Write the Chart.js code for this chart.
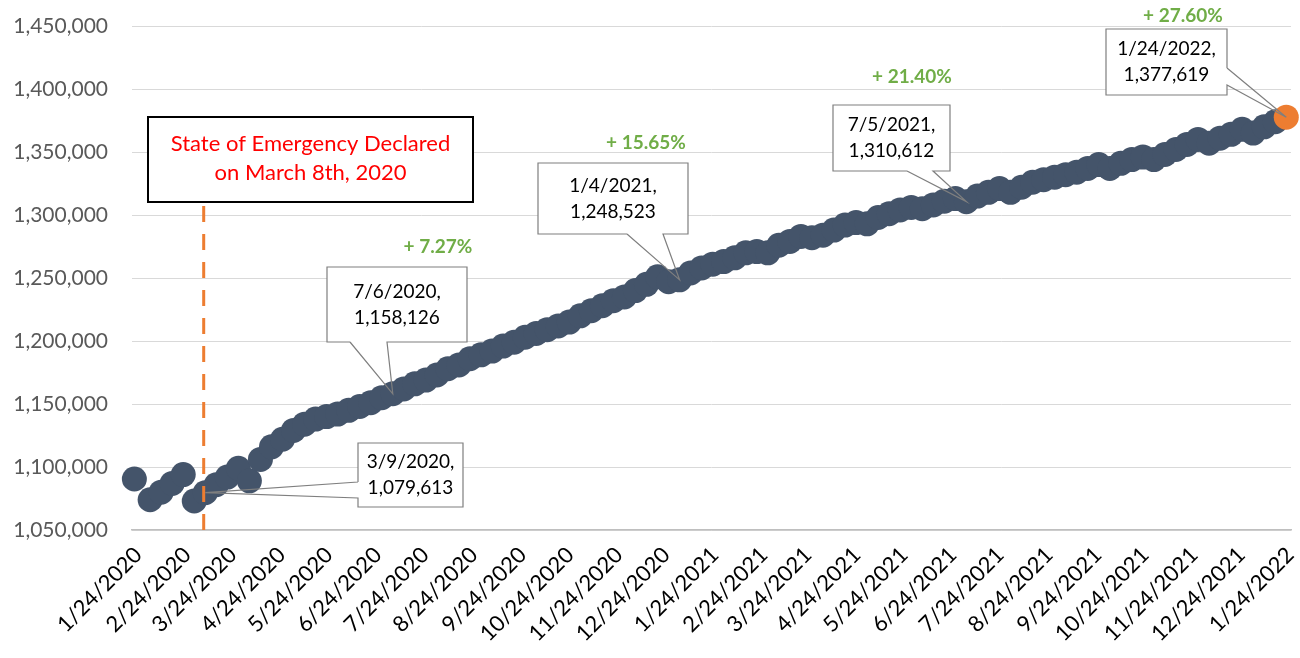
<!DOCTYPE html>
<html>
<head>
<meta charset="utf-8">
<script src="https://cdn.jsdelivr.net/npm/chart.js@4.4.1/dist/chart.umd.min.js"></script>
<style>
  html, body { margin: 0; padding: 0; background: #fff; }
  #wrap { width: 1300px; height: 658px; }
</style>
</head>
<body>
<div id="wrap"><canvas id="chart" width="1300" height="658"></canvas></div>
<script>
'use strict';

// weekly observations (first one is the axis start date)
const DATES = [
  '1/24/2020', '2/3/2020', '2/10/2020', '2/17/2020', '2/24/2020', '3/2/2020', '3/9/2020', '3/16/2020',
  '3/23/2020', '3/30/2020', '4/6/2020', '4/13/2020', '4/20/2020', '4/27/2020', '5/4/2020', '5/11/2020',
  '5/18/2020', '5/25/2020', '6/1/2020', '6/8/2020', '6/15/2020', '6/22/2020', '6/29/2020', '7/6/2020',
  '7/13/2020', '7/20/2020', '7/27/2020', '8/3/2020', '8/10/2020', '8/17/2020', '8/24/2020', '8/31/2020',
  '9/7/2020', '9/14/2020', '9/21/2020', '9/28/2020', '10/5/2020', '10/12/2020', '10/19/2020', '10/26/2020',
  '11/2/2020', '11/9/2020', '11/16/2020', '11/23/2020', '11/30/2020', '12/7/2020', '12/14/2020', '12/21/2020',
  '12/28/2020', '1/4/2021', '1/11/2021', '1/18/2021', '1/25/2021', '2/1/2021', '2/8/2021', '2/15/2021',
  '2/22/2021', '3/1/2021', '3/8/2021', '3/15/2021', '3/22/2021', '3/29/2021', '4/5/2021', '4/12/2021',
  '4/19/2021', '4/26/2021', '5/3/2021', '5/10/2021', '5/17/2021', '5/24/2021', '5/31/2021', '6/7/2021',
  '6/14/2021', '6/21/2021', '6/28/2021', '7/5/2021', '7/12/2021', '7/19/2021', '7/26/2021', '8/2/2021',
  '8/9/2021', '8/16/2021', '8/23/2021', '8/30/2021', '9/6/2021', '9/13/2021', '9/20/2021', '9/27/2021',
  '10/4/2021', '10/11/2021', '10/18/2021', '10/25/2021', '11/1/2021', '11/8/2021', '11/15/2021', '11/22/2021',
  '11/29/2021', '12/6/2021', '12/13/2021', '12/20/2021', '12/27/2021', '1/3/2022', '1/10/2022', '1/17/2022',
  '1/24/2022',
];

const VALUES = [
  1090500, 1074000, 1080000, 1087000, 1094000, 1073000, 1079613, 1086000,
  1092000, 1099000, 1089000, 1106000, 1116000, 1122000, 1129000, 1134000,
  1138000, 1140000, 1142000, 1145000, 1148000, 1151000, 1155000, 1158126,
  1162000, 1166000, 1169000, 1173000, 1178000, 1181000, 1186000, 1189000,
  1192000, 1196000, 1199000, 1203000, 1206000, 1209000, 1212000, 1215000,
  1220000, 1224000, 1228000, 1232000, 1235000, 1240000, 1245000, 1251000,
  1247000, 1248523, 1254000, 1258000, 1261000, 1263000, 1266000, 1270000,
  1271000, 1270000, 1276000, 1279000, 1283000, 1282000, 1284000, 1288000,
  1292000, 1294000, 1293000, 1298000, 1301000, 1304000, 1306000, 1305000,
  1308000, 1311000, 1313000, 1310612, 1315000, 1318000, 1321000, 1318000,
  1322000, 1326000, 1328000, 1330000, 1332000, 1334000, 1337000, 1340000,
  1337000, 1341000, 1344000, 1346000, 1344000, 1348000, 1352000, 1356000,
  1360000, 1357000, 1361000, 1364000, 1368000, 1365000, 1370000, 1374000,
  1377619,
];

const TICK_LABELS = [
  '1/24/2020', '2/24/2020', '3/24/2020', '4/24/2020', '5/24/2020', '6/24/2020', '7/24/2020',
  '8/24/2020', '9/24/2020', '10/24/2020', '11/24/2020', '12/24/2020', '1/24/2021', '2/24/2021',
  '3/24/2021', '4/24/2021', '5/24/2021', '6/24/2021', '7/24/2021', '8/24/2021', '9/24/2021',
  '10/24/2021', '11/24/2021', '12/24/2021', '1/24/2022',
];

const Y_MIN = 1050000;
const Y_MAX = 1450000;
const Y_STEP = 50000;

const CALLOUT_DATES = ['3/9/2020', '7/6/2020', '1/4/2021', '7/5/2021', '1/24/2022'];
const GROWTH_LABELS = ['+ 7.27%', '+ 15.65%', '+ 21.40%', '+ 27.60%'];
const EMERGENCY_DATE = '3/8/2020';
const EMERGENCY_TEXT = ['State of Emergency Declared', 'on March 8th, 2020'];

const SLATE = '#44546A';
const ORANGE = '#ED7D31';
const GREEN = '#70AD47';
const FONT = 'Lato, "Open Sans", sans-serif';

function dayOf(s) {
  const [m, d, y] = s.split('/').map(Number);
  return Math.round((Date.UTC(y, m - 1, d) - Date.UTC(2020, 0, 24)) / 86400000);
}

const points = DATES.map((d, i) => ({ x: dayOf(d), y: VALUES[i] }));
const tickDays = TICK_LABELS.map(dayOf);
const fmt = v => Number(v).toLocaleString('en-US');

// box placement for each callout, in canvas pixels: wedge base points on one side
const CALLOUT_BOXES = [
  { x: 358, y: 443, w: 105, h: 64, side: 'left',   b1: 482, b2: 498 },
  { x: 327, y: 267, w: 140, h: 75, side: 'bottom', b1: 350, b2: 387 },
  { x: 538, y: 163, w: 150, h: 71, side: 'bottom', b1: 627, b2: 663 },
  { x: 833, y: 105, w: 117, h: 66, side: 'bottom', b1: 907, b2: 933 },
  { x: 1106, y: 29, w: 121, h: 66, side: 'right',  b1: 68,  b2: 85 },
];
const GROWTH_POS = [[438, 247], [646, 143], [912, 77], [1183, 16]];
const EMERGENCY_BOX = { x: 148, y: 117, w: 325, h: 85 };

const overlay = {
  id: 'overlay',
  afterDatasetsDraw(chart) {
    const { ctx, scales: { x, y }, chartArea } = chart;
    ctx.save();

    // emergency marker
    const ex = x.getPixelForValue(dayOf(EMERGENCY_DATE));
    ctx.strokeStyle = ORANGE;
    ctx.lineWidth = 3;
    ctx.setLineDash([16, 12]);
    ctx.beginPath();
    ctx.moveTo(ex, EMERGENCY_BOX.y + EMERGENCY_BOX.h + 4);
    ctx.lineTo(ex, chartArea.bottom);
    ctx.stroke();
    ctx.setLineDash([]);

    const eb = EMERGENCY_BOX;
    ctx.fillStyle = '#fff';
    ctx.fillRect(eb.x, eb.y, eb.w, eb.h);
    ctx.strokeStyle = '#000';
    ctx.lineWidth = 2;
    ctx.strokeRect(eb.x, eb.y, eb.w, eb.h);
    ctx.fillStyle = '#FF0000';
    ctx.font = '22px ' + FONT;
    ctx.textAlign = 'center';
    ctx.textBaseline = 'middle';
    ctx.fillText(EMERGENCY_TEXT[0], eb.x + eb.w / 2, eb.y + 27);
    ctx.fillText(EMERGENCY_TEXT[1], eb.x + eb.w / 2, eb.y + 56);

    // callouts
    CALLOUT_DATES.forEach((d, i) => {
      const b = CALLOUT_BOXES[i];
      const idx = DATES.indexOf(d);
      const tx = x.getPixelForValue(dayOf(d));
      const ty = y.getPixelForValue(VALUES[idx]);
      ctx.fillStyle = '#fff';
      ctx.fillRect(b.x, b.y, b.w, b.h);
      ctx.strokeStyle = '#7F7F7F';
      ctx.lineWidth = 1.2;
      ctx.beginPath();
      if (b.side === 'bottom') {
        ctx.moveTo(b.b1, b.y + b.h);
        ctx.lineTo(b.x, b.y + b.h);
        ctx.lineTo(b.x, b.y);
        ctx.lineTo(b.x + b.w, b.y);
        ctx.lineTo(b.x + b.w, b.y + b.h);
        ctx.lineTo(b.b2, b.y + b.h);
        ctx.lineTo(tx, ty);
        ctx.lineTo(b.b1, b.y + b.h);
      } else if (b.side === 'left') {
        ctx.moveTo(b.x, b.b1);
        ctx.lineTo(b.x, b.y);
        ctx.lineTo(b.x + b.w, b.y);
        ctx.lineTo(b.x + b.w, b.y + b.h);
        ctx.lineTo(b.x, b.y + b.h);
        ctx.lineTo(b.x, b.b2);
        ctx.lineTo(tx, ty);
        ctx.lineTo(b.x, b.b1);
      } else {
        ctx.moveTo(b.x + b.w, b.b1);
        ctx.lineTo(b.x + b.w, b.y);
        ctx.lineTo(b.x, b.y);
        ctx.lineTo(b.x, b.y + b.h);
        ctx.lineTo(b.x + b.w, b.y + b.h);
        ctx.lineTo(b.x + b.w, b.b2);
        ctx.lineTo(tx, ty);
        ctx.lineTo(b.x + b.w, b.b1);
      }
      ctx.stroke();
      ctx.fillStyle = '#000';
      ctx.font = '19px ' + FONT;
      ctx.fillText(d + ',', b.x + b.w / 2, b.y + b.h / 2 - 13);
      ctx.fillText(fmt(VALUES[idx]), b.x + b.w / 2, b.y + b.h / 2 + 13);
    });

    // growth percentages
    ctx.fillStyle = GREEN;
    ctx.font = 'bold 19px ' + FONT;
    GROWTH_LABELS.forEach((t, i) => {
      ctx.fillText(t, GROWTH_POS[i][0], GROWTH_POS[i][1]);
    });

    ctx.restore();
  },
};

Chart.defaults.font.family = FONT;

new Chart(document.getElementById('chart').getContext('2d'), {
  type: 'scatter',
  data: {
    datasets: [{
      data: points,
      clip: false,
      pointRadius: 12.5,
      pointHoverRadius: 12.5,
      pointBorderWidth: 0,
      pointBackgroundColor: c => (c.dataIndex === VALUES.length - 1 ? ORANGE : SLATE),
      pointBorderColor: c => (c.dataIndex === VALUES.length - 1 ? ORANGE : SLATE),
    }],
  },
  options: {
    responsive: false,
    animation: false,
    layout: { autoPadding: false, padding: { top: 26, right: 9, left: 0, bottom: 0 } },
    plugins: { legend: { display: false }, tooltip: { enabled: false } },
    scales: {
      x: {
        type: 'linear',
        min: -1.5,
        max: 734,
        afterBuildTicks: s => { s.ticks = tickDays.map(v => ({ value: v })); },
        afterFit: s => {
          s.height = 128;
          s.paddingLeft = 0;
          s.paddingRight = 0;
        },
        ticks: {
          autoSkip: false,
          minRotation: 45,
          maxRotation: 45,
          padding: 4,
          labelOffset: 4,
          color: '#000',
          font: { size: 22 },
          callback: (v, i) => TICK_LABELS[i],
        },
        grid: { display: false },
        border: { color: '#BFBFBF', width: 1.5 },
      },
      y: {
        min: Y_MIN,
        max: Y_MAX,
        afterFit: s => {
          s.width = 132;
          s.paddingTop = 0;
          s.paddingBottom = 0;
        },
        ticks: {
          stepSize: Y_STEP,
          padding: 24,
          color: '#595959',
          font: { size: 21 },
          callback: v => fmt(v),
        },
        grid: { color: '#D9D9D9', drawTicks: false },
        border: { display: false },
      },
    },
  },
  plugins: [overlay],
});
</script>
</body>
</html>
